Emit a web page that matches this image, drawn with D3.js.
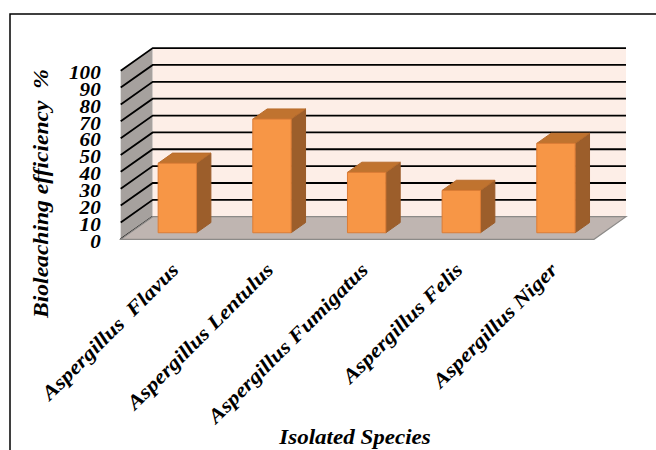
<!DOCTYPE html>
<html>
<head>
<meta charset="utf-8">
<script src="https://cdn.jsdelivr.net/npm/d3@7/dist/d3.min.js"></script>
<style>
  html, body { margin: 0; padding: 0; background: #fff; }
  svg { display: block; }
  .lbl { font-family: "Liberation Serif", "DejaVu Serif", serif; font-weight: bold; font-style: italic; fill: #000; white-space: pre; }
</style>
</head>
<body>
<svg id="chart" width="656" height="450"></svg>
<script>
// Bioleaching efficiency of the isolated Aspergillus species
const categories = ["Aspergillus  Flavus", "Aspergillus Lentulus", "Aspergillus Fumigatus", "Aspergillus Felis", "Aspergillus Niger"];
const values = [41.2, 67.4, 35.8, 25.1, 53];
const yTicks = [0, 10, 20, 30, 40, 50, 60, 70, 80, 90, 100];
const yTitle = "Bioleaching efficiency  %";
const xTitle = "Isolated Species";

const svg = d3.select("#chart");

// front plane of the 3-D box and its depth offset
const X0 = 120.7, X1 = 594, Y0 = 239.3, Y1 = 70.7;
const DX = 32, DY = -22.6;
const D0 = 0.29, D1 = 0.74;   // bar depth span, as fractions of the box depth
const WIDEN = 1.15;           // horizontal widening of the label glyphs

const x = d3.scaleBand().domain(categories).range([X0, X1]).paddingInner(0.595).paddingOuter(0.2975);
const y = d3.scaleLinear().domain([0, 100]).range([Y0, Y1]);
const P = (px, py, d) => [px + d * DX, py + d * DY];
const pts = arr => arr.map(p => p.join(",")).join(" ");

// outer frame
svg.append("rect").attr("x", 10).attr("y", 14).attr("width", 700).attr("height", 500)
  .attr("fill", "none").attr("stroke", "#000").attr("stroke-width", 1.5);

// side wall
svg.append("polygon")
  .attr("points", pts([[X0, Y0], [X0, Y1], P(X0, Y1, 1), P(X0, Y0, 1)]))
  .attr("fill", "#a6a19e");

// back wall
svg.append("polygon")
  .attr("points", pts([P(X0, Y1, 1), P(X1, Y1, 1), P(X1, Y0, 1), P(X0, Y0, 1)]))
  .attr("fill", "#fdeee7");

// gridlines on side and back walls
svg.append("g").selectAll("polyline").data(yTicks).join("polyline")
  .attr("points", t => t === 0
    ? pts([[X0, y(t)], P(X0, y(t), 1)])
    : pts([[X0, y(t)], P(X0, y(t), 1), P(X1, y(t), 1)]))
  .attr("fill", "none").attr("stroke", "#000").attr("stroke-width", 1.8);

// floor
svg.append("polygon")
  .attr("points", pts([[X0, Y0], [X1, Y0], P(X1, Y0, 1), P(X0, Y0, 1)]))
  .attr("fill", "#bfb5b1").attr("stroke", "#8c8a88").attr("stroke-width", 1.2);

// 3-D bars
const bw = x.bandwidth();
const bars = svg.append("g").selectAll("g").data(categories.map((c, i) => ({ c, v: values[i] }))).join("g");
bars.append("polygon") // side face
  .attr("points", d => {
    const xr = x(d.c) + bw, yt = y(d.v), yb = y(0);
    return pts([P(xr, yt, D0), P(xr, yt, D1), P(xr, yb, D1), P(xr, yb, D0)]);
  })
  .attr("fill", "#9c5e2b").attr("stroke", "#9a5c2a").attr("stroke-width", 1);
bars.append("polygon") // top face
  .attr("points", d => {
    const xl = x(d.c), xr = xl + bw, yt = y(d.v);
    return pts([P(xl, yt, D0), P(xr, yt, D0), P(xr, yt, D1), P(xl, yt, D1)]);
  })
  .attr("fill", "#c0732f").attr("stroke", "#b86c2c").attr("stroke-width", 1);
bars.append("polygon") // front face
  .attr("points", d => {
    const xl = x(d.c), xr = xl + bw, yt = y(d.v), yb = y(0);
    return pts([P(xl, yt, D0), P(xr, yt, D0), P(xr, yb, D0), P(xl, yb, D0)]);
  })
  .attr("fill", "#f79646").attr("stroke", "#dc7d36").attr("stroke-width", 1);

// value axis labels
const yAxis = svg.append("g").attr("transform", `translate(${X0},0)`)
  .call(d3.axisLeft(y).tickValues(yTicks).tickSize(0));
yAxis.select(".domain").remove();
yAxis.selectAll("text").attr("class", "lbl").attr("font-size", 18.5)
  .attr("x", 0).attr("dy", "0.42em")
  .attr("transform", `translate(-20,0) scale(1.14,1)`);

// category labels, rotated
svg.append("g").selectAll("text").data(categories).join("text")
  .attr("class", "lbl")
  .attr("font-size", 20)
  .attr("text-anchor", "end")
  .attr("transform", c => `translate(${x(c) + bw / 2 + 2},${Y0 + 22}) rotate(-45) scale(${WIDEN},1)`)
  .attr("dy", "0.7em")
  .text(c => c);

// axis titles
svg.append("text").attr("class", "lbl")
  .attr("font-size", 20.5).attr("text-anchor", "middle")
  .attr("transform", `translate(47.5,193.5) rotate(-90) scale(${WIDEN},1)`)
  .text(yTitle);

svg.append("text").attr("class", "lbl")
  .attr("font-size", 20).attr("text-anchor", "middle")
  .attr("transform", `translate(355,444) scale(${WIDEN},1)`)
  .text(xTitle);
</script>
</body>
</html>
